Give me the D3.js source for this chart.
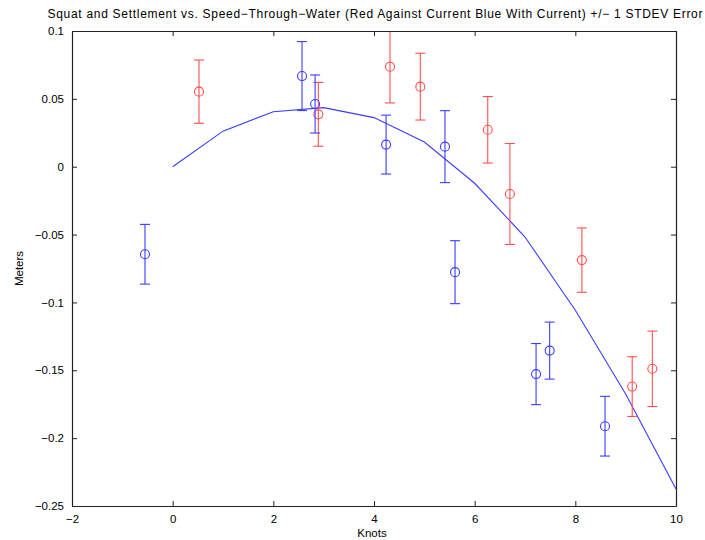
<!DOCTYPE html>
<html><head><meta charset="utf-8">
<script src="https://cdn.jsdelivr.net/npm/d3@7/dist/d3.min.js"></script>
<style>body{margin:0;background:#fff}svg{display:block}text{font-family:"Liberation Sans",Arial,sans-serif;fill:#000}</style>
</head><body><svg id="c" width="705" height="540"></svg>
<script>
const title = "Squat and Settlement vs. Speed\u2212Through\u2212Water (Red Against Current Blue With Current) +/\u2212 1 STDEV Error";
const xLabel = "Knots", yLabel = "Meters";
const xTicks = [-2, 0, 2, 4, 6, 8, 10];
const yTicks = [0.1, 0.05, 0, -0.05, -0.1, -0.15, -0.2, -0.25];
const yTickLabels = ["0.1", "0.05", "0", "\u22120.05", "\u22120.1", "\u22120.15", "\u22120.2", "\u22120.25"];
const xTickLabels = ["\u22122", "0", "2", "4", "6", "8", "10"];

// Blue (with current)
const blueX = [-0.55, 2.57, 2.83, 4.24, 5.41, 5.61, 7.22, 7.49, 8.59];
const blueY = [-0.0645, 0.0668, 0.0462, 0.0163, 0.0148, -0.0777, -0.1528, -0.1355, -0.1912];
const blueErr = [0.022, 0.0254, 0.0214, 0.0217, 0.0265, 0.0232, 0.0225, 0.021, 0.022];
// Red (against current)
const redX = [0.523, 2.894, 4.318, 4.92, 6.26, 6.70, 8.13, 9.13, 9.53];
const redY = [0.0553, 0.0386, 0.0737, 0.059, 0.0272, -0.0201, -0.0688, -0.1620, -0.1489];
const redErr = [0.0233, 0.0235, 0.0267, 0.0246, 0.0245, 0.0372, 0.0237, 0.0220, 0.0278];
// Fit curve
const lineX = [0, 1, 2, 3, 4, 5, 6, 7, 8, 9, 10];
const lineY = [0, 0.0262, 0.0405, 0.0435, 0.0362, 0.0182, -0.0122, -0.0518, -0.1058, -0.1675, -0.2375];

const L = 72, R = 676, T = 31, B = 506;
const svg = d3.select("#c");
const x = d3.scaleLinear().domain([-2, 10]).range([L, R]);
const y = d3.scaleLinear().domain([-0.25, 0.1]).range([B, T]);
const blue = "rgb(60,60,255)", red = "rgb(255,80,80)";

svg.append("defs").append("clipPath").attr("id", "clip")
  .append("rect").attr("x", L).attr("y", T).attr("width", R - L).attr("height", B - T);

const plot = svg.append("g").attr("clip-path", "url(#clip)");

plot.append("path")
  .datum(lineX.map((d, i) => [d, lineY[i]]))
  .attr("fill", "none").attr("stroke", blue).attr("stroke-width", 1.1)
  .attr("d", d3.line().x(d => x(d[0])).y(d => y(d[1])));

function series(xs, ys, es, color) {
  const g = plot.append("g").attr("stroke", color).attr("fill", "none").attr("stroke-width", 1.1);
  xs.forEach((xv, i) => {
    const cx = x(xv), top = y(ys[i] + es[i]), bot = y(ys[i] - es[i]);
    g.append("line").attr("x1", cx).attr("x2", cx).attr("y1", top).attr("y2", bot);
    g.append("line").attr("x1", cx - 5).attr("x2", cx + 5).attr("y1", top).attr("y2", top);
    g.append("line").attr("x1", cx - 5).attr("x2", cx + 5).attr("y1", bot).attr("y2", bot);
    g.append("circle").attr("cx", cx).attr("cy", y(ys[i])).attr("r", 4.5).attr("fill", "none");
  });
}
series(redX, redY, redErr, red);
series(blueX, blueY, blueErr, blue);

// axes (MATLAB style: inward ticks on all sides)
const axColor = "#222";
const xb = svg.append("g").attr("transform", `translate(0,${B})`)
  .call(d3.axisBottom(x).tickValues(xTicks).tickSizeInner(-5).tickSizeOuter(0).tickPadding(9)
    .tickFormat((d, i) => xTickLabels[i]));
const xt = svg.append("g").attr("transform", `translate(0,${T})`)
  .call(d3.axisTop(x).tickValues(xTicks).tickSizeInner(-5).tickSizeOuter(0).tickFormat(""));
const yl = svg.append("g").attr("transform", `translate(${L},0)`)
  .call(d3.axisLeft(y).tickValues(yTicks).tickSizeInner(-5).tickSizeOuter(0).tickPadding(8)
    .tickFormat((d, i) => yTickLabels[i]));
const yr = svg.append("g").attr("transform", `translate(${R},0)`)
  .call(d3.axisRight(y).tickValues(yTicks).tickSizeInner(-5).tickSizeOuter(0).tickFormat(""));
[xb, xt, yl, yr].forEach(g => {
  g.selectAll("path").attr("stroke", axColor).attr("stroke-width", 1.2);
  g.selectAll("line").attr("stroke", axColor);
  g.selectAll("text").attr("font-size", 11.5).attr("font-family", '"Liberation Sans",Arial,sans-serif').attr("fill", "#000");
});

svg.append("text").attr("x", 375).attr("y", 18).attr("text-anchor", "middle")
  .attr("font-size", 12).attr("textLength", 655).attr("lengthAdjust", "spacing").text(title);
svg.append("text").attr("x", 372).attr("y", 537).attr("text-anchor", "middle")
  .attr("font-size", 11.5).text(xLabel);
svg.append("text").attr("transform", `translate(23,${(T + B) / 2}) rotate(-90)`).attr("text-anchor", "middle")
  .attr("font-size", 11.5).text(yLabel);
</script></body></html>
